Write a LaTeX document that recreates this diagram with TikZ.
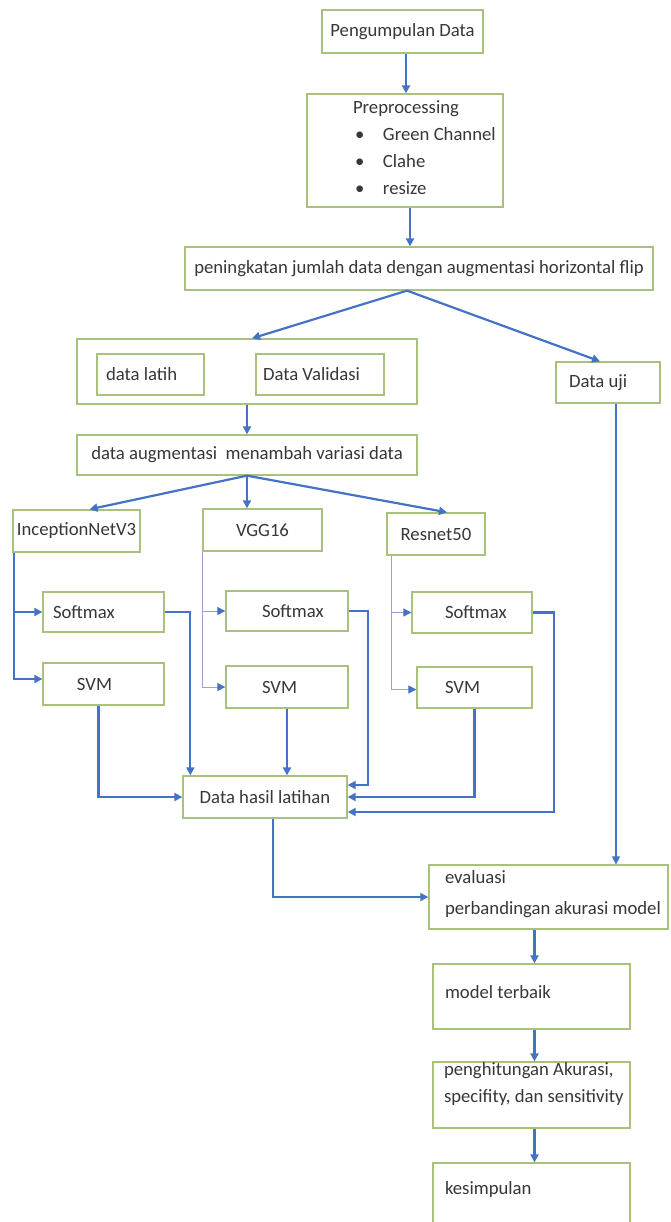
\documentclass[tikz,border=0pt]{standalone}
\usepackage{fontspec}
\setmainfont{Carlito}
\usepackage{tikz}
\usetikzlibrary{arrows.meta,positioning,calc}
\usepackage{xcolor}
\definecolor{BoxGreen}{RGB}{170,192,125}
\definecolor{FlowBlue}{RGB}{68,114,196}
\definecolor{ThinBlue}{RGB}{150,165,205}
\definecolor{InkGray}{RGB}{55,55,55}

\begin{document}
\begin{tikzpicture}[x=1pt,y=-1pt,
  box/.style={draw=BoxGreen,line width=1.3pt,fill=white,inner sep=0pt,
              font=\fontsize{18.7pt}{27pt}\selectfont,text=InkGray},
  lbox/.style={box,align=flush left,inner xsep=2pt},
  arr/.style={draw=FlowBlue,line width=2.2pt,
              -{Triangle[length=8pt,width=8pt]}},
  thinarr/.style={draw=ThinBlue,line width=1pt,
              -{Triangle[length=8pt,width=8pt,color=FlowBlue]}},
  midarr/.style={draw=FlowBlue,line width=1.4pt,
              -{Triangle[length=8pt,width=8pt]}},
]
\useasboundingbox (0,0) rectangle (670,1222);

% data collection and preprocessing
\node[box,minimum width=161pt,minimum height=43pt] (collect) at (402.5,31.5) {Pengumpulan Data};
\node[lbox,minimum width=196pt,minimum height=113pt,text width=192pt,text depth=86pt,
      font=\fontsize{18.7pt}{26.7pt}\selectfont] (prep) at (405,150.5) {
  \hspace*{44pt}Preprocessing\\
  \hspace*{46pt}\makebox[28pt][l]{\textbullet}Green Channel\\
  \hspace*{46pt}\makebox[28pt][l]{\textbullet}Clahe\\
  \hspace*{46pt}\makebox[28pt][l]{\textbullet}resize};
\node[box,minimum width=468pt,minimum height=43pt] (grow) at (419,268.5)
  {peningkatan jumlah data dengan augmentasi horizontal flip};

% data split
\node[box,minimum width=340pt,minimum height=65pt] (split) at (247,371.5) {};
\node[lbox,minimum height=41pt,text width=103pt] (train) at (150.5,374.5) {\hspace*{7pt}data latih};
\node[lbox,minimum height=41pt,text width=124pt] (valid) at (320,374.5) {\hspace*{5pt}Data Validasi};
\node[lbox,minimum height=41pt,text width=100pt] (test) at (608,382.5) {\hspace*{11pt}Data uji};
\node[box,minimum width=340pt,minimum height=40pt] (aug) at (247,455)
  {data augmentasi\ \ menambah variasi data};

% backbones
\node[box,minimum width=127pt,minimum height=42pt] (incep) at (76.5,531) {InceptionNetV3};
\node[box,minimum width=119pt,minimum height=42pt] (vgg) at (262.5,530) {VGG16};
\node[box,minimum width=98pt,minimum height=42pt] (resnet) at (436,534) {Resnet50};

% classifier heads
\node[lbox,minimum height=40pt,text width=117pt] (soft1) at (103.5,612) {\hspace*{8pt}Softmax};
\node[lbox,minimum height=42pt,text width=117pt] (svm1) at (103.5,684) {\hspace*{32pt}SVM};
\node[lbox,minimum height=40pt,text width=118pt] (soft2) at (287,611) {\hspace*{34pt}Softmax};
\node[lbox,minimum height=42pt,text width=118pt] (svm2) at (287,687) {\hspace*{34pt}SVM};
\node[lbox,minimum height=41pt,text width=116pt] (soft3) at (472,612.5) {\hspace*{31pt}Softmax};
\node[lbox,minimum height=41pt,text width=111pt] (svm3) at (474.5,687.5) {\hspace*{26pt}SVM};
\node[box,minimum width=164pt,minimum height=42pt] (hasil) at (265,797) {Data hasil latihan};

% evaluation
\node[lbox,minimum height=64pt,text width=235pt,text depth=41pt,
      font=\fontsize{18.7pt}{31pt}\selectfont] (eval) at (548.5,897)
  {\hspace*{14pt}evaluasi\\ \hspace*{14pt}perbandingan akurasi model};
\node[lbox,minimum height=65pt,text width=193pt,text depth=9pt] (best) at (531.5,996.5) {\hspace*{10pt}model terbaik};
\node[lbox,minimum height=64pt,inner xsep=0pt,text width=197pt,text depth=53pt] (hitung) at (531.5,1095)
  {\hspace*{11pt}penghitungan Akurasi,\\ \hspace*{11pt}\mbox{specifity, dan sensitivity}};
\node[lbox,minimum height=65pt,text width=193pt,text depth=16pt] (simpul) at (531.5,1195.5) {\hspace*{10pt}kesimpulan};

% connectors: top chain
\draw[arr] ([xshift=3.5pt]collect.south) -- ([xshift=3.5pt]collect.south |- prep.north);
\draw[arr] ([xshift=5pt]prep.south) -- ([xshift=5pt]prep.south |- grow.north);
\draw[arr] ([xshift=-12pt]grow.south) -- ([xshift=5pt]split.north);
\draw[arr] ([xshift=-12pt]grow.south) -- ([xshift=-8pt]test.north);
\draw[arr] (split.south) -- (split.south |- aug.north);
\draw[arr] (aug.south) -- ([xshift=13pt]incep.north);
\draw[arr] (aug.south) -- (aug.south |- vgg.north);
\draw[arr] (aug.south) -- ([xshift=11pt]resnet.north);

% backbones to heads
\draw[arr] ([xshift=2pt]incep.south west) |- (soft1.west);
\draw[arr] ([xshift=2pt]incep.south west) |- ([yshift=5pt]svm1.west);
\draw[thinarr] (vgg.south west) |- (soft2.west);
\draw[thinarr] (vgg.south west) |- (svm2.west);
\draw[thinarr] ([xshift=5pt]resnet.south west) |- (soft3.west);
\draw[thinarr] ([xshift=5pt]resnet.south west) |- ([yshift=-2pt]svm3.west);

% heads to training results
\draw[arr] (soft1.east) -| ([xshift=8pt]hasil.north west);
\draw[arr] ([xshift=-5pt]svm1.south) |- (hasil.west);
\draw[arr] (svm2.south) -- (svm2.south |- hasil.north);
\draw[arr] (soft2.east) -- ++(19,0) |- ([yshift=12pt]hasil.east);
\draw[arr] (svm3.south) |- (hasil.east);
\draw[arr] (soft3.east) -- ++(21,0) |- ([yshift=-15pt]hasil.east);

% evaluation chain
\draw[arr] ([xshift=8pt]hasil.south) |- (eval.west);
\draw[midarr] ([xshift=8pt]test.south) -- ([xshift=8pt]test.south |- eval.north);
\draw[arr] ([xshift=3pt]best.north |- eval.south) -- ([xshift=3pt]best.north);
\draw[arr] ([xshift=3pt]best.south) -- ([xshift=3pt]hitung.north);
\draw[arr] ([xshift=3pt]hitung.south) -- ([xshift=3pt]simpul.north);
\end{tikzpicture}
\end{document}
